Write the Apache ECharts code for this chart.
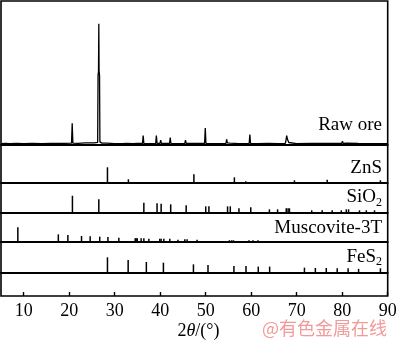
<!DOCTYPE html>
<html>
<head>
<meta charset="utf-8">
<script src="https://cdn.jsdelivr.net/npm/echarts@6/dist/echarts.min.js"></script>
<style>
html,body{margin:0;padding:0;background:#fff;}
#chart{width:400px;height:342px;}
</style>
</head>
<body>
<div id="chart"></div>
<script>
// ---------- data ----------
const xTicks = [10, 20, 30, 40, 50, 60, 70, 80, 90];
const panelNames = ['Raw ore', 'ZnS', 'SiO2', 'Muscovite-3T', 'FeS2'];
const xTitle = '2θ/(°)';
const watermark = '@有色金属在线';

// measured raw ore pattern [2θ, relative intensity]
const rawOre = [
  [5,0.6],[6,0.7],[7,0.6],[8.3,0.7],[8.5,1.9],[8.7,0.7],[10,0.6],[11.9,0.7],[12.05,1.8],[12.2,0.7],
  [14,0.6],[16,0.7],[17.4,0.7],[17.5,1.2],[17.6,0.7],[19,0.8],[20.5,0.9],[20.65,17.4],[20.8,0.9],
  [22,0.8],[23.5,1.2],[23.7,0.9],[24.4,1.2],[24.55,2.6],[24.7,1.0],[25.5,1.2],[26.25,1.6],
  [26.33,57],[26.43,60],[26.5,100],[26.56,61],[26.66,57],[26.74,2.0],[27.2,1.0],[28.2,0.9],[28.35,1.9],[28.5,0.8],
  [30,0.6],[31.7,0.6],[31.8,1.3],[31.9,0.6],[32.6,0.7],[32.75,1.6],[32.9,0.6],[34,0.6],[35,0.7],
  [36.1,0.7],[36.25,7.2],[36.4,0.7],[37.5,0.6],[39.0,0.7],[39.15,7.3],[39.3,0.8],[39.95,0.7],
  [40.1,3.4],[40.25,0.7],[42.05,0.7],[42.2,5.6],[42.35,0.7],[44,0.6],[45.4,0.7],[45.55,3.4],
  [45.7,0.7],[47.5,0.7],[47.65,1.3],[47.8,0.6],[49.75,0.7],[49.9,13.5],[50.05,0.8],[50.3,1.2],
  [50.45,0.7],[52,0.6],[54.45,0.8],[54.6,4.2],[54.75,1.2],[55.35,1.0],[55.45,1.8],[55.6,0.7],
  [57.3,0.6],[57.4,1.0],[57.5,0.6],[59.55,0.7],[59.7,8.0],[59.85,0.8],[61.5,0.6],[63.8,0.7],
  [63.9,2.2],[64.05,0.6],[65.9,0.6],[66.0,0.9],[66.1,0.6],[67.5,0.8],[67.65,3.5],[67.8,7.2],
  [67.95,4.5],[68.1,5.0],[68.25,1.5],[68.4,0.7],[70,0.6],[73.2,0.7],[73.3,1.7],[73.45,0.6],
  [75.4,0.7],[75.5,2.2],[75.65,0.7],[77.6,0.7],[77.75,1.8],[77.9,0.6],[79.9,0.7],[80.05,2.5],
  [80.2,0.8],[80.9,0.9],[81.05,2.4],[81.2,0.7],[83.5,0.7],[83.65,1.8],[83.8,0.6],[86,0.6],
  [88,0.6],[90,0.6]
];

// reference stick patterns [2θ, relative intensity]
const znsSticks = [[28.4,100],[33.0,20],[47.4,53],[56.3,33],[58.8,7],[69.5,13],[76.7,17],[88.4,13]];
const sio2Sticks = [
  [20.7,100],[26.5,78],[36.4,58],[39.3,54],[40.2,51],[42.3,48],[45.7,42],[50.0,36],[50.7,36],
  [54.8,36],[55.4,36],[57.3,24],[59.9,30],[64.0,18],[65.8,18],[67.7,24],[68.1,24],[68.4,24],
  [73.3,12],[75.6,12],[77.8,12],[79.8,12],[80.9,18],[81.4,18],[83.8,12],[85.3,12],[87.1,12]
];
const muscoviteSticks = [
  [8.7,100],[17.6,51],[19.7,47],[22.7,40],[24.6,37],[26.7,35],[28.5,33],[30.9,28],
  [34.5,24],[34.7,24],[34.95,24],[35.8,24],[36.4,24],[37.5,21],[39.9,21],[40.2,21],[40.8,21],
  [42.1,21],[43.9,14],[45.4,17],[45.9,17],[48.1,14],[55.2,10],[55.7,10],[56.1,10],
  [59.5,10],[60.4,10],[61.5,10]
];
const fes2Sticks = [
  [28.4,100],[32.95,82],[36.95,69],[40.7,64],[47.3,53],[50.5,49],[56.2,42],[58.85,42],
  [61.55,38],[64.05,38],[71.7,31],[74.1,29],[76.5,29],[78.9,27],[81.3,27],[83.6,23],[88.4,27]
];

// ---------- layout ----------
const L = 1, W = 386.7;
const FONT = "'Liberation Serif','Times New Roman',serif";
const panels = [
  {top: 1,     h: 143.3, max: 118.8},
  {top: 144.3, h: 38,    max: 253},
  {top: 182.3, h: 30,    max: 181},
  {top: 212.3, h: 29.4,  max: 204},
  {top: 241.7, h: 30.6,  max: 204}
];

const grids = [{left: L, top: 1, width: W, height: 295, show: true, borderColor: '#000', borderWidth: 1.6, backgroundColor: 'transparent'}];
const xAxes = [{
  gridIndex: 0, type: 'value', min: 5, max: 90, splitNumber: 9,
  axisLine: {show: false},
  axisTick: {show: true, inside: true, length: 4, lineStyle: {color: '#000', width: 1.4}},
  axisLabel: {show: true, color: '#000', fontSize: 18, fontFamily: FONT, margin: 6, showMinLabel: false,
    formatter: v => (xTicks.indexOf(v) >= 0 ? String(v) : '')},
  splitLine: {show: false}
}];
const yAxes = [{gridIndex: 0, type: 'value', show: false, min: 0, max: 1}];

panels.forEach((p, i) => {
  grids.push({left: L, top: p.top, width: W, height: p.h, show: false});
  xAxes.push({
    gridIndex: i + 1, type: 'value', min: 5, max: 90,
    axisLine: {show: true, onZero: false, lineStyle: {color: '#000', width: 1.8}},
    axisTick: {show: false}, axisLabel: {show: false}, splitLine: {show: false}
  });
  yAxes.push({gridIndex: i + 1, type: 'value', show: false, min: 0, max: p.max});
});

function stickRender(params, api) {
  const x = api.value(0), h = api.value(1);
  const p0 = api.coord([x, 0]);
  const p1 = api.coord([x, h]);
  return {type: 'line', shape: {x1: p0[0], y1: p0[1], x2: p1[0], y2: p1[1]},
          style: {stroke: '#000', lineWidth: 1.5}};
}

const stickSets = [znsSticks, sio2Sticks, muscoviteSticks, fes2Sticks];
const series = [{
  type: 'line', xAxisIndex: 1, yAxisIndex: 1, data: rawOre, showSymbol: false, symbol: 'none',
  lineStyle: {color: '#000', width: 1.3}, animation: false, silent: true
}];
stickSets.forEach((s, i) => {
  series.push({type: 'custom', xAxisIndex: i + 2, yAxisIndex: i + 2, data: s,
    renderItem: stickRender, animation: false, silent: true, encode: {x: 0, y: 1}});
});

function label(text, rich, y) {
  return {type: 'text', x: 382, y: y, silent: true,
    style: {text: text, rich: rich, fill: '#000', fontSize: 19, fontFamily: FONT,
            align: 'right', textAlign: 'right', verticalAlign: 'middle', textVerticalAlign: 'middle'}};
}
const subRich = {
  m: {fontSize: 19, fontFamily: FONT, color: '#000', lineHeight: 22, verticalAlign: 'middle'},
  s: {fontSize: 12, fontFamily: FONT, color: '#000', lineHeight: 12, verticalAlign: 'bottom'}
};

const graphics = [
  label(panelNames[0], null, 125),
  label(panelNames[1], null, 168.3),
  label('{m|SiO}{s|2}', subRich, 197.5),
  label(panelNames[3], null, 228.3),
  label('{m|FeS}{s|2}', subRich, 256.7),
  {type: 'text', x: 198.5, y: 331.7, silent: true,
   style: {text: '{n|2}{i|θ}{n|/(°)}', fill: '#000', align: 'center', textAlign: 'center',
           verticalAlign: 'middle', textVerticalAlign: 'middle',
           rich: {n: {fontSize: 18, fontFamily: FONT, color: '#000'},
                  i: {fontSize: 18, fontFamily: FONT, fontStyle: 'italic', color: '#000'}}}},
  {type: 'text', x: 262, y: 328, silent: true,
   style: {text: watermark, fill: '#f29a9a', fontSize: 18, fontFamily: "'Noto Sans CJK SC', sans-serif",
           align: 'left', textAlign: 'left', verticalAlign: 'middle', textVerticalAlign: 'middle'}}
];

const chart = echarts.init(document.getElementById('chart'), null, {renderer: 'canvas'});
chart.setOption({
  animation: false,
  backgroundColor: '#fff',
  grid: grids,
  xAxis: xAxes,
  yAxis: yAxes,
  series: series,
  graphic: graphics
});
</script>
</body>
</html>
